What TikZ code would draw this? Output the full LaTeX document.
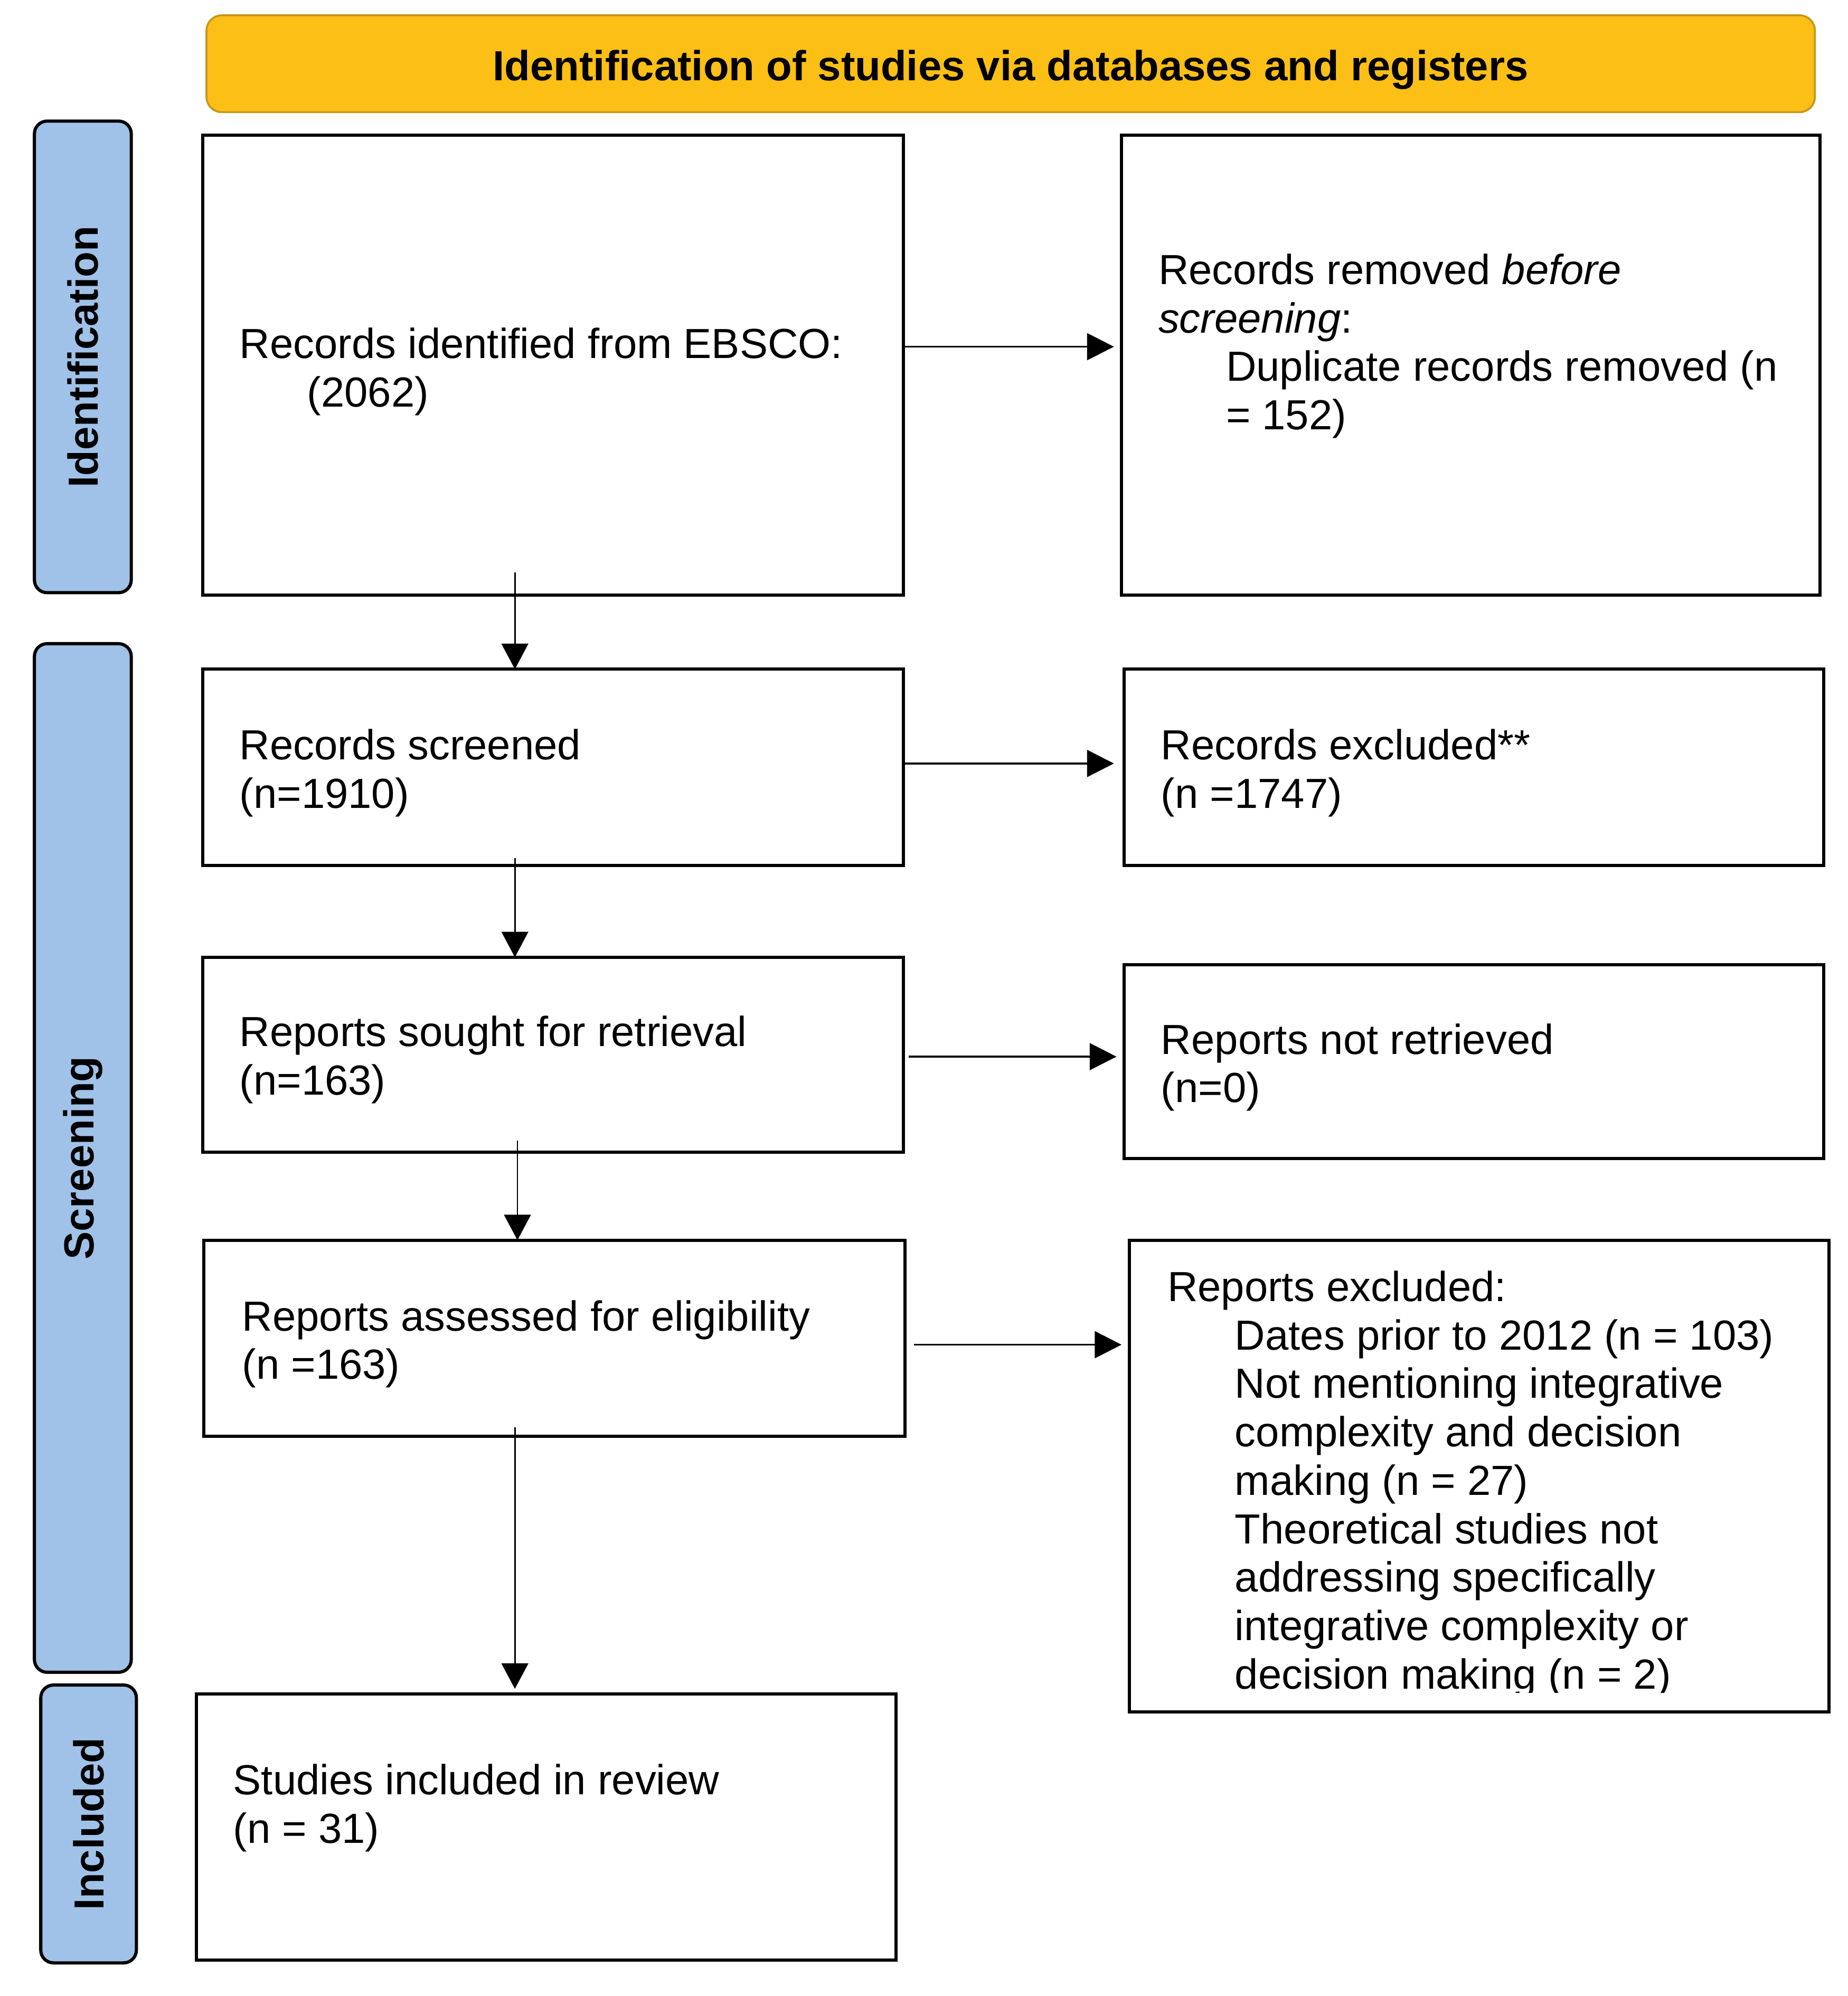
\documentclass[tikz,border=0pt]{standalone}
\usepackage{fontspec}
\setmainfont{Liberation Sans}
\usetikzlibrary{arrows.meta}
\definecolor{hdrfill}{HTML}{FBBF15}
\definecolor{hdrline}{HTML}{C8951A}
\definecolor{barfill}{HTML}{A0C2E8}
\begin{document}
\begin{tikzpicture}[x=1pt,y=-1pt,
  every node/.style={font=\fontsize{33}{38}\selectfont, inner sep=0pt, outer sep=0pt},
  box/.style={draw=black, line width=2.5pt, fill=white, rectangle},
  hdr/.style={draw=hdrline, line width=1.5pt, fill=hdrfill, rounded corners=12pt},
  bar/.style={draw=black, line width=2.5pt, fill=barfill, rounded corners=10pt},
  txt/.style={anchor=base west},
  harr/.style={line width=1.5pt, -{Triangle[length=21pt,width=21pt]}},
  varr/.style={line width=1.1pt, -{Triangle[length=20pt,width=21pt]}}]
\useasboundingbox (0,0) rectangle (1450,1566);
\fill[white] (0,0) rectangle (1450,1566);

% header
\node[hdr, minimum width=1262pt, minimum height=76pt] (h) at (793,50) {};
\node[anchor=base] (ht) at (793,63) {\bfseries Identification of studies via databases and registers};

% side bars
\node[bar, rotate=90, minimum width=370pt, minimum height=76pt] (s1) at (65,280) {\bfseries Identification};
\node[bar, rotate=90, minimum width=807pt, minimum height=76pt] (s2) at (65,908.5) {\bfseries Screening};
\node[bar, rotate=90, minimum width=218pt, minimum height=75pt] (s3) at (69.5,1431) {\bfseries Included};

% boxes
\node[box, minimum width=550pt, minimum height=361pt] (b1) at (434,286.5) {};
\node[box, minimum width=548pt, minimum height=361pt] (b2) at (1154,286.5) {};
\node[box, minimum width=550pt, minimum height=154pt] (b3) at (434,602) {};
\node[box, minimum width=549pt, minimum height=154pt] (b4) at (1156.5,602) {};
\node[box, minimum width=550pt, minimum height=153pt] (b5) at (434,827.5) {};
\node[box, minimum width=549pt, minimum height=152pt] (b6) at (1156.5,833) {};
\node[box, minimum width=550pt, minimum height=154pt] (b7) at (435,1050) {};
\node[box, minimum width=549pt, minimum height=370pt] (b8) at (1160.5,1158) {};
\node[box, minimum width=549pt, minimum height=209pt] (b9) at (428.5,1433.5) {};

% texts
\node[txt] (t1) at (188,281) {\begin{tabular}[t]{@{}l@{}}Records identified from EBSCO:\\ \hspace*{53pt}(2062)\end{tabular}};
\node[txt] (t2) at (909,223) {\begin{tabular}[t]{@{}l@{}}Records removed \textit{before}\\ \textit{screening}:\\ \hspace*{53pt}Duplicate records removed (n\\ \hspace*{53pt}= 152)\end{tabular}};
\node[txt] (t3) at (188,596) {\begin{tabular}[t]{@{}l@{}}Records screened\\ (n=1910)\end{tabular}};
\node[txt] (t4) at (911,596) {\begin{tabular}[t]{@{}l@{}}Records excluded**\\ (n =1747)\end{tabular}};
\node[txt] (t5) at (188,821) {\begin{tabular}[t]{@{}l@{}}Reports sought for retrieval\\ (n=163)\end{tabular}};
\node[txt] (t6) at (911,827) {\begin{tabular}[t]{@{}l@{}}Reports not retrieved\\ (n=0)\end{tabular}};
\node[txt] (t7) at (190,1044) {\begin{tabular}[t]{@{}l@{}}Reports assessed for eligibility\\ (n =163)\end{tabular}};
\begin{scope}
\clip (886,973) rectangle (1435,1328);
\node[txt] (t8) at (916,1021) {\begin{tabular}[t]{@{}l@{}}Reports excluded:\\
 \hspace*{53pt}Dates prior to 2012 (n = 103)\\
 \hspace*{53pt}Not mentioning integrative\\
 \hspace*{53pt}complexity and decision\\
 \hspace*{53pt}making (n = 27)\\
 \hspace*{53pt}Theoretical studies not\\
 \hspace*{53pt}addressing specifically\\
 \hspace*{53pt}integrative complexity or\\
 \hspace*{53pt}decision making (n = 2)\end{tabular}};
\end{scope}
\node[txt] (t9) at (183,1408) {\begin{tabular}[t]{@{}l@{}}Studies included in review\\ (n = 31)\end{tabular}};

% connector helper coordinates
\coordinate (y1) at (0,272);
\coordinate (y2) at (0,599);
\coordinate (y3) at (0,829);
\coordinate (y4) at (0,1055);
\coordinate (v1) at (404,449);
\coordinate (v2) at (404,673);
\coordinate (v3) at (406,895);
\coordinate (v4) at (404,1120);

% horizontal arrows
\draw[harr] (b1.east |- y1) -- ([xshift=-6pt]b2.west |- y1);
\draw[harr] (b3.east |- y2) -- ([xshift=-8pt]b4.west |- y2);
\draw[harr] ([xshift=4pt]b5.east |- y3) -- ([xshift=-6pt]b6.west |- y3);
\draw[harr] ([xshift=7pt]b7.east |- y4) -- ([xshift=-6pt]b8.west |- y4);

% vertical arrows
\draw[varr] (v1) -- (b3.north -| v1);
\draw[varr] (v2) -- (b5.north -| v2);
\draw[varr] (v3) -- (b7.north -| v3);
\draw[varr] (v4) -- ([yshift=4pt]b9.north -| v4);
\end{tikzpicture}
\end{document}
